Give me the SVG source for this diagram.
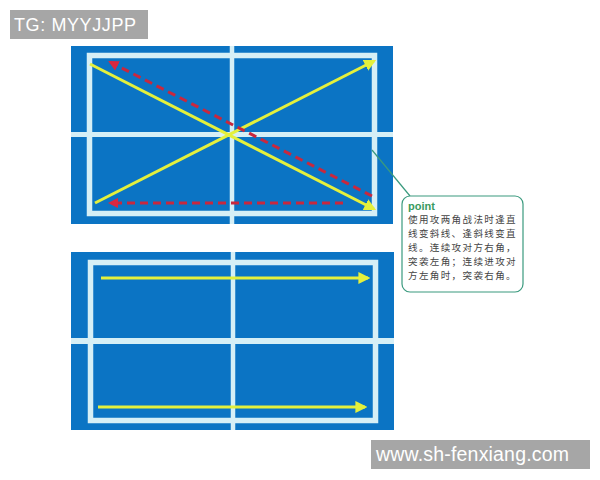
<svg xmlns="http://www.w3.org/2000/svg" width="600" height="480" viewBox="0 0 600 480">
<style>
.court{fill:#0b74c4}
.ln{stroke:#d6eff6;fill:none}
.yl{stroke:#e4f03c;stroke-width:3;fill:none}
.rd{stroke:#c8283e;stroke-width:3;fill:none;stroke-dasharray:8 5}
.wm{fill:#a6a6a6}
.wt{fill:#ffffff;font-family:"Liberation Sans",Arial,sans-serif}
.cn{font-family:"Noto Sans CJK SC","Noto Sans",sans-serif;font-size:9.5px;fill:#444;letter-spacing:1.4px}
</style>
<defs>
<marker id="ya" viewBox="0 0 10 10" refX="8" refY="5" markerWidth="4" markerHeight="4" orient="auto" markerUnits="strokeWidth"><path d="M0,0 L10,5 L0,10 Z" fill="#e4f03c"/></marker>
<marker id="ra" viewBox="0 0 10 10" refX="8" refY="5" markerWidth="3.5" markerHeight="3.5" orient="auto" markerUnits="strokeWidth"><path d="M0,0 L10,5 L0,10 Z" fill="#d92840"/></marker>
</defs>
<rect class="wm" x="10" y="10" width="138" height="29"/>
<text class="wt" x="14" y="31" font-size="18" letter-spacing="0.6">TG: MYYJJPP</text>
<g id="court1">
<rect class="court" x="71" y="46" width="322" height="178"/>
<rect class="ln" x="89.5" y="55.5" width="285" height="158" stroke-width="5.5"/>
<line class="ln" x1="232" y1="46" x2="232" y2="224" stroke-width="4.5"/>
<line class="ln" x1="71" y1="134.5" x2="393" y2="134.5" stroke-width="5"/>
</g>
<g id="court2">
<rect class="court" x="71" y="252" width="323" height="178"/>
<rect class="ln" x="90.5" y="262.5" width="285" height="158" stroke-width="5.5"/>
<line class="ln" x1="233" y1="252" x2="233" y2="430" stroke-width="4.5"/>
<line class="ln" x1="71" y1="341" x2="394" y2="341" stroke-width="6"/>
</g>
<g id="connectors">
<line class="yl" x1="90" y1="64" x2="374" y2="209" marker-end="url(#ya)"/>
<line class="yl" x1="95" y1="203" x2="374" y2="61" marker-end="url(#ya)"/>
<line class="rd" x1="372" y1="196" x2="110" y2="62" marker-end="url(#ra)"/>
<line class="rd" x1="343" y1="203" x2="110" y2="203" marker-end="url(#ra)"/>
<line class="yl" x1="101" y1="278" x2="368" y2="278" marker-end="url(#ya)"/>
<line class="yl" x1="98" y1="407" x2="365" y2="407" marker-end="url(#ya)"/>
<line x1="372" y1="150" x2="410" y2="196" stroke="#3a9a7e" stroke-width="1.2"/>
</g>
<g id="callout">
<rect x="402" y="196" width="121" height="96" rx="8" fill="#fff" stroke="#3a9a7e" stroke-width="1.2"/>
<text x="408" y="210" font-family="'Liberation Sans',Arial,sans-serif" font-size="11" font-weight="bold" fill="#3a9a5e">point</text>
<text class="cn" x="408" y="223">使用攻两角战法时逢直</text>
<text class="cn" x="408" y="237">线变斜线、逢斜线变直</text>
<text class="cn" x="408" y="251">线。连续攻对方右角，</text>
<text class="cn" x="408" y="265">突袭左角；连续进攻对</text>
<text class="cn" x="408" y="279">方左角时，突袭右角。</text>
</g>
<rect class="wm" x="371" y="440" width="219" height="29"/>
<text class="wt" x="376" y="461" font-size="19.5" textLength="193">www.sh-fenxiang.com</text>
</svg>
